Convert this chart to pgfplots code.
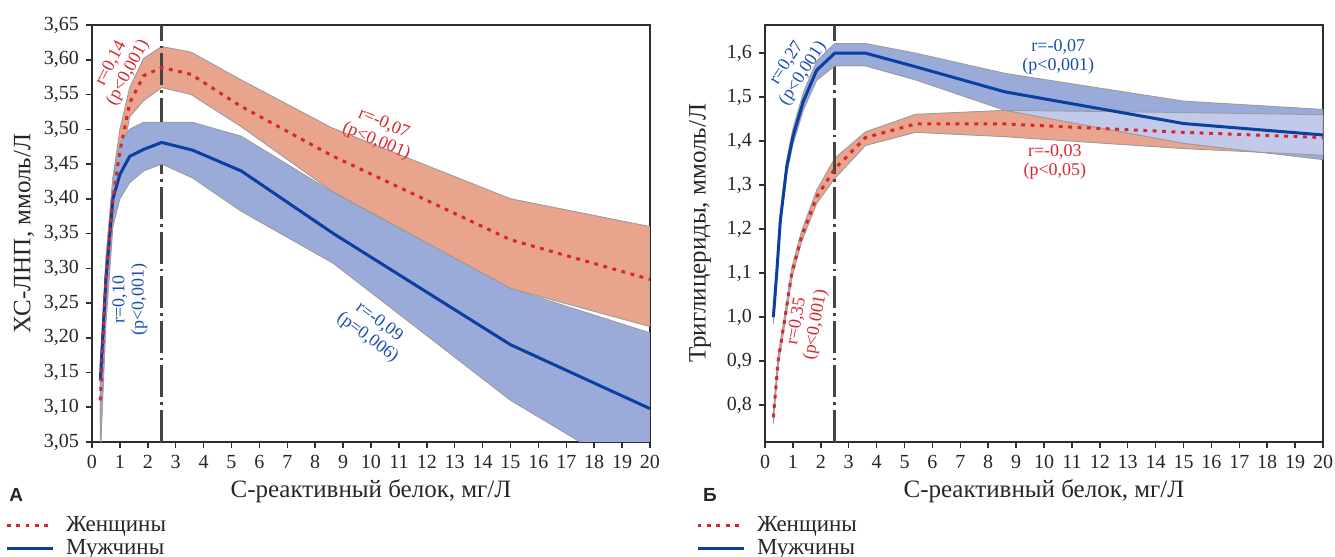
\documentclass[border=0pt]{standalone}
\usepackage{fontspec}
\setmainfont{Liberation Serif}
\newfontfamily\sansbold{Liberation Sans}
\usepackage{pgfplots}
\pgfplotsset{compat=1.18}

\definecolor{redband}{HTML}{E8A48C}
\definecolor{blueband}{HTML}{9AAAD9}
\definecolor{overlapc}{HTML}{C3C9EA}
\definecolor{redline}{HTML}{D9262E}
\definecolor{blueline}{HTML}{0B3FA0}
\definecolor{bluetext}{HTML}{1B4DB0}
\definecolor{axisgray}{HTML}{2E2E2E}
\definecolor{edgegray}{HTML}{9C9C9C}
\definecolor{vlinec}{HTML}{454545}

\tikzset{
  band/.style={draw=edgegray, line width=0.45pt},
  fline/.style={redline, line width=1.5pt, dash pattern=on 1.9pt off 2.8pt},
  mline/.style={blueline, line width=1.5pt},
  vdash/.style={vlinec, line width=1.4pt, dash pattern=on 16pt off 2.5pt on 1.3pt off 2.5pt},
  ann/.style={font=\fontsize{9}{9.6}\selectfont, align=center, inner sep=0pt},
}

\pgfplotsset{
  /pgf/number format/assume math mode=true,
  panel/.style={
    scale only axis, width=279pt, height=208.5pt,
    xmin=0, xmax=20, xtick={0,1,...,20},
    tick align=outside, tick pos=left, major tick length=3pt,
    axis line style={axisgray, line width=0.75pt},
    tick style={axisgray, line width=0.75pt},
    tick label style={font=\fontsize{10}{12}\selectfont, text=black!85},
    label style={font=\fontsize{12.5}{14}\selectfont, text=black!85},
    xlabel style={at={(axis description cs:0.5,-0.1175)}, anchor=center},
    legend style={draw=none, fill=none, font=\fontsize{11.5}{13}\selectfont,
      row sep=-1.5pt, legend cell align=left, text=black!85,
      /tikz/every odd column/.append style={column sep=4pt}},
    legend image code/.code={\draw[##1] (0pt,0pt) -- (23pt,0pt);},
  },
}

\begin{document}
\begin{tikzpicture}
\useasboundingbox (0,0) rectangle (667.5pt,278.5pt);

% ---------------- Panel A ----------------
\begin{axis}[panel, at={(46pt,57.5pt)}, anchor=south west,
  ymin=3.05, ymax=3.65,
  ytick={3.05,3.10,3.15,3.20,3.25,3.30,3.35,3.40,3.45,3.50,3.55,3.60,3.65},
  yticklabel style={/pgf/number format/.cd, fixed, fixed zerofill, precision=2, use comma},
  xlabel={С-реактивный белок, мг/Л},
  ylabel={ХС-ЛНП, ммоль/Л},
  ylabel style={at={(axis description cs:-0.122,0.5)}, anchor=center},
  legend style={at={(axis description cs:-0.167,-0.158)}, anchor=north west},
  after end axis/.code={\node[font=\sansbold\bfseries\fontsize{9.5}{11}\selectfont, text=black!85] at (axis description cs:-0.136,-0.127) {А};},
]
% women band
\addplot[band, fill=redband, forget plot] coordinates {
 (0.3,3.140) (0.5,3.315) (0.75,3.430) (1.0,3.500) (1.35,3.560) (1.85,3.602) (2.5,3.619) (3.55,3.611) (5.3,3.572) (8.6,3.502) (15,3.400) (20,3.360)
 (20,3.216) (15,3.271) (8.6,3.411) (5.3,3.505) (3.55,3.550) (2.5,3.560) (1.85,3.541) (1.35,3.518) (1.0,3.440) (0.75,3.370) (0.5,3.255) (0.3,3.080)
} -- cycle;
\addplot[vdash, forget plot] coordinates {(2.5,3.05) (2.5,3.65)};
% men band
\addplot[band, fill=blueband, forget plot] coordinates {
 (0.3,3.165) (0.5,3.310) (0.75,3.430) (1.0,3.480) (1.35,3.500) (1.85,3.510) (2.5,3.510) (3.6,3.510) (5.35,3.490) (8.65,3.409) (15,3.271) (20,3.207)
 (20,2.990) (15,3.110) (8.65,3.307) (5.35,3.382) (3.6,3.430) (2.5,3.450) (1.85,3.440) (1.35,3.423) (1.0,3.400) (0.75,3.360) (0.5,3.220) (0.3,3.030)
} -- cycle;
% means
\addplot[mline, forget plot] coordinates {
 (0.3,3.139) (0.5,3.285) (0.75,3.400) (1.0,3.435) (1.35,3.461) (1.85,3.471) (2.5,3.481) (3.6,3.470) (5.35,3.440) (8.65,3.350) (15,3.190) (20,3.098)};
\addplot[fline, forget plot] coordinates {
 (0.3,3.110) (0.5,3.285) (0.75,3.400) (1.0,3.468) (1.35,3.538) (1.85,3.577) (2.5,3.589) (3.55,3.579) (5.3,3.534) (8.6,3.462) (15,3.341) (20,3.284)};
\addlegendimage{fline}\addlegendentry{Женщины}
\addlegendimage{mline}\addlegendentry{Мужчины}
% annotations
\node[ann, text=redline, rotate=62] at (axis cs:1.0,3.588) {r=0,14\\(p<0,001)};
\node[ann, text=redline, rotate=-23] at (axis cs:10.32,3.495) {r=-0,07\\(p<0,001)};
\node[ann, text=bluetext, rotate=90] at (axis cs:1.36,3.255) {r=0,10\\(p<0,001)};
\node[ann, text=bluetext, rotate=-37] at (axis cs:10.08,3.211) {r=-0,09\\(p=0,006)};
\end{axis}

% ---------------- Panel B ----------------
\begin{axis}[panel, at={(382.5pt,57.5pt)}, anchor=south west,
  ymin=0.716, ymax=1.664,
  ytick={0.8,0.9,1.0,1.1,1.2,1.3,1.4,1.5,1.6},
  yticklabel style={/pgf/number format/.cd, fixed, fixed zerofill, precision=1, use comma},
  xlabel={С-реактивный белок, мг/Л},
  ylabel={Триглицериды, ммоль/Л},
  ylabel style={at={(axis description cs:-0.1165,0.5)}, anchor=center},
  legend style={at={(axis description cs:-0.135,-0.158)}, anchor=north west},
  after end axis/.code={\node[font=\sansbold\bfseries\fontsize{9.5}{11}\selectfont, text=black!85] at (axis description cs:-0.0986,-0.127) {Б};},
]
% women band
\addplot[band, fill=redband, forget plot] coordinates {
 (0.3,0.785) (0.47,0.912) (0.72,1.012) (0.96,1.112) (1.31,1.195) (1.85,1.288) (2.5,1.361) (3.6,1.421) (5.4,1.461) (8.6,1.470) (15,1.465) (20,1.460)
 (20,1.368) (15,1.383) (8.6,1.410) (5.4,1.420) (3.6,1.390) (2.5,1.315) (1.85,1.258) (1.31,1.171) (0.96,1.088) (0.72,0.988) (0.47,0.888) (0.3,0.758)
} -- cycle;
\addplot[vdash, forget plot] coordinates {(2.5,0.716) (2.5,1.664)};
% men band
\addplot[band, fill=blueband, forget plot] coordinates {
 (0.3,1.015) (0.42,1.115) (0.55,1.235) (0.78,1.358) (1.0,1.428) (1.37,1.510) (1.85,1.582) (2.5,1.622) (3.6,1.622) (5.4,1.600) (8.6,1.554) (15,1.491) (20,1.472)
 (20,1.358) (15,1.395) (8.6,1.470) (5.4,1.539) (3.6,1.571) (2.5,1.571) (1.85,1.538) (1.37,1.470) (1.0,1.392) (0.78,1.325) (0.55,1.205) (0.42,1.085) (0.3,0.985)
} -- cycle;
% overlap of the two bands
\addplot[band, fill=overlapc, forget plot] coordinates {
 (8.6,1.470) (15,1.465) (20,1.460) (20,1.368) (17.7,1.375) (15,1.395) (8.6,1.470)
} -- cycle;
% means
\addplot[mline, forget plot] coordinates {
 (0.3,1.000) (0.42,1.100) (0.55,1.220) (0.78,1.342) (1.0,1.410) (1.37,1.490) (1.85,1.561) (2.5,1.600) (3.6,1.600) (5.4,1.569) (8.6,1.512) (15,1.440) (20,1.414)};
\addplot[fline, forget plot] coordinates {
 (0.3,0.772) (0.47,0.900) (0.72,1.000) (0.96,1.100) (1.31,1.183) (1.85,1.273) (2.5,1.337) (3.6,1.408) (5.4,1.439) (8.6,1.439) (15,1.420) (20,1.408)};
\addlegendimage{fline}\addlegendentry{Женщины}
\addlegendimage{mline}\addlegendentry{Мужчины}
% annotations
\node[ann, text=bluetext, rotate=57] at (axis cs:1.08,1.565) {r=0,27\\(p<0,001)};
\node[ann, text=bluetext] at (axis cs:10.51,1.592) {r=-0,07\\(p<0,001)};
\node[ann, text=redline] at (axis cs:10.39,1.353) {r=-0,03\\(p<0,05)};
\node[ann, text=redline, rotate=80] at (axis cs:1.49,0.986) {r=0,35\\(p<0,001)};
\end{axis}
\end{tikzpicture}
\end{document}
